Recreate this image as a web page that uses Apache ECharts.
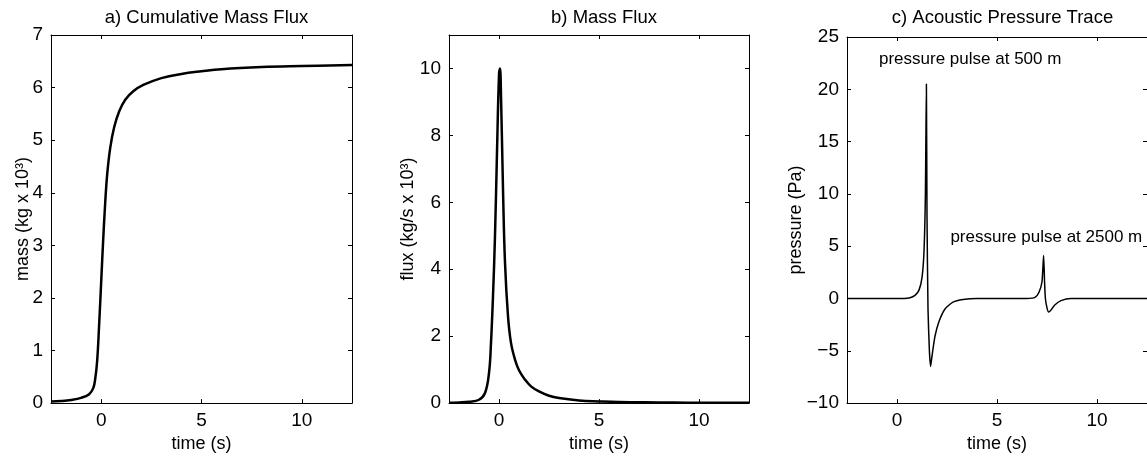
<!DOCTYPE html>
<html>
<head>
<meta charset="utf-8">
<script src="https://cdn.jsdelivr.net/npm/echarts@6/dist/echarts.min.js"></script>
<style>
  html, body { margin: 0; background: #fff; }
  #chart { width: 1147px; height: 458px; }
</style>
</head>
<body>
<div id="chart"></div>
<script>
// a) cumulative mass (kg x 10^3) against time (s)
const massTime = [-2.5, -2, -1.5, -1, -0.6, -0.4, -0.3, -0.2, -0.1, 0, 0.1, 0.2, 0.3, 0.45, 0.65, 0.9, 1.2, 1.6, 2.1, 3, 4, 5, 6, 8, 10, 12.5];
const massValues = [0.03, 0.04, 0.06, 0.1, 0.17, 0.28, 0.45, 0.8, 1.5, 2.3, 3.1, 3.8, 4.35, 4.85, 5.25, 5.55, 5.77, 5.93, 6.05, 6.18, 6.26, 6.31, 6.35, 6.39, 6.41, 6.43];

// b) mass flux (kg/s x 10^3)
const fluxTime = [-2.5, -2, -1.5, -1, -0.7, -0.5, -0.4, -0.3, -0.2, -0.1, 0, 0.05, 0.1, 0.2, 0.3, 0.45, 0.6, 0.8, 1, 1.3, 1.6, 2, 2.5, 3, 4, 5, 6, 8, 10, 12.5];
const fluxValues = [0.01, 0.02, 0.04, 0.1, 0.3, 0.9, 1.8, 3.2, 5.0, 7.5, 9.8, 10.0, 9.2, 6.4, 4.2, 2.6, 1.8, 1.3, 0.98, 0.7, 0.5, 0.35, 0.22, 0.15, 0.08, 0.05, 0.03, 0.02, 0.01, 0.01];

// c) acoustic pressure (Pa)
const pressureTime = [-2.5, 0, 0.6, 0.9, 1.1, 1.25, 1.35, 1.42, 1.47, 1.5, 1.55, 1.62, 1.68, 1.75, 1.9, 2.1, 2.4, 2.8, 3.3, 4, 6.5, 6.9, 7.1, 7.25, 7.33, 7.38, 7.42, 7.5, 7.58, 7.7, 7.9, 8.2, 8.7, 12.5];
const pressureValues = [0, 0, 0.05, 0.3, 0.8, 2.0, 4.5, 10, 20.5, 8, -1, -5, -6.5, -5.5, -3.6, -2.2, -1.0, -0.35, -0.1, 0, 0, 0.1, 0.6, 1.6, 4.1, 1.5, 0, -0.9, -1.3, -1.1, -0.6, -0.2, 0, 0];

const noteText = ['pressure pulse at 500 m', 'pressure pulse at 2500 m'];
const noteTime = [-0.9, 2.67];
const notePressure = [22.9, 5.86];

const titles = ['a) Cumulative Mass Flux', 'b) Mass Flux', 'c) Acoustic Pressure Trace'];
const yNames = ['mass (kg x 10³)', 'flux (kg/s x 10³)', 'pressure (Pa)'];
const timeTicks = [0, 5, 10];
const massTicks = [0, 1, 2, 3, 4, 5, 6, 7];
const fluxTicks = [0, 2, 4, 6, 8, 10];
const pressureTicks = [-10, -5, 0, 5, 10, 15, 20, 25];

const FONT = 'Liberation Sans, Arial, sans-serif';
const lineStyle = { color: '#000', width: 1 };

const grids = [
  { left: 51, top: 35, width: 301, height: 370 },
  { left: 449, top: 35, width: 300, height: 370 },
  { left: 847, top: 37, width: 301, height: 370 }
];
const yRanges = [[0, 7], [0, 11], [-10, 25]];
const yTickSets = [massTicks, fluxTicks, pressureTicks];
const yNameGaps = [19, 32, 42];

const fmt = v => String(v).replace('-', '\u2212');

const xAxes = [];
const yAxes = [];
grids.forEach((g, i) => {
  const common = {
    gridIndex: i,
    type: 'value',
    min: -2.5,
    max: 12.5,
    axisLine: { show: true, onZero: false, lineStyle },
    axisTick: { show: true, inside: true, length: 4, lineStyle, customValues: timeTicks },
    splitLine: { show: false }
  };
  xAxes.push(Object.assign({}, common, {
    position: 'bottom',
    name: 'time (s)',
    nameLocation: 'middle',
    nameGap: 28,
    nameTextStyle: { color: '#000', fontSize: 18, fontFamily: FONT },
    axisLabel: { color: '#000', fontSize: 19, fontFamily: FONT, margin: 8, customValues: timeTicks, formatter: fmt }
  }));
  xAxes.push(Object.assign({}, common, {
    position: 'top',
    axisLabel: { show: false }
  }));
  const yCommon = {
    gridIndex: i,
    type: 'value',
    min: yRanges[i][0],
    max: yRanges[i][1],
    axisLine: { show: true, onZero: false, lineStyle },
    axisTick: { show: true, inside: true, length: 4, lineStyle, customValues: yTickSets[i] },
    splitLine: { show: false }
  };
  yAxes.push(Object.assign({}, yCommon, {
    position: 'left',
    name: yNames[i],
    nameLocation: 'middle',
    nameGap: yNameGaps[i],
    nameMoveOverlap: false,
    nameTextStyle: { color: '#000', fontSize: 18, fontFamily: FONT },
    axisLabel: { color: '#000', fontSize: 19, fontFamily: FONT, margin: 8, customValues: yTickSets[i], formatter: fmt }
  }));
  yAxes.push(Object.assign({}, yCommon, {
    position: 'right',
    axisLabel: { show: false }
  }));
});

const zip = (xs, ys) => xs.map((x, k) => [x, ys[k]]);

const series = [
  {
    type: 'line', xAxisIndex: 0, yAxisIndex: 0,
    data: zip(massTime, massValues),
    showSymbol: false, smooth: 0.4,
    lineStyle: { color: '#000', width: 2.5 }
  },
  {
    type: 'line', xAxisIndex: 2, yAxisIndex: 2,
    data: zip(fluxTime, fluxValues),
    showSymbol: false, smooth: 0.4,
    lineStyle: { color: '#000', width: 2.5 }
  },
  {
    type: 'line', xAxisIndex: 4, yAxisIndex: 4,
    data: zip(pressureTime, pressureValues),
    showSymbol: false, smooth: 0.2,
    lineStyle: { color: '#000', width: 1.5 }
  },
  {
    type: 'scatter', xAxisIndex: 4, yAxisIndex: 4,
    data: noteTime.map((t, k) => ({ value: [t, notePressure[k]], name: noteText[k] })),
    symbolSize: 0,
    itemStyle: { opacity: 1 },
    label: {
      show: true, position: 'right', distance: 0, align: 'left', verticalAlign: 'middle',
      formatter: p => p.name,
      color: '#000', opacity: 1, fontSize: 17, fontFamily: FONT
    },
    silent: true
  }
];

const chart = echarts.init(document.getElementById('chart'), null, { renderer: 'canvas' });
chart.setOption({
  backgroundColor: '#fff',
  animation: false,
  title: titles.map((t, i) => ({
    text: t,
    left: grids[i].left + grids[i].width / 2,
    textAlign: 'center',
    top: 3,
    textStyle: { color: '#000', fontSize: 18.5, fontWeight: 'normal', fontFamily: FONT }
  })),
  grid: grids,
  xAxis: xAxes,
  yAxis: yAxes,
  series
});
</script>
</body>
</html>
